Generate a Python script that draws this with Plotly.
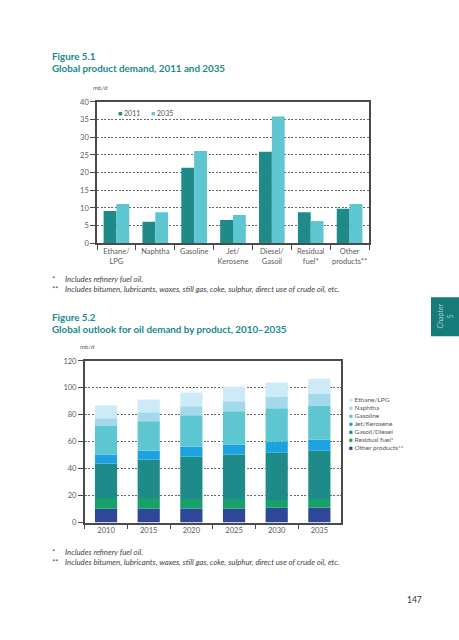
import plotly.graph_objects as go
import numpy as np

W, H = 459, 640

# ---------------- Figure 5.1 data ----------------
products = ["Ethane/<br>LPG", "Naphtha", "Gasoline", "Jet/<br>Kerosene",
            "Diesel/<br>Gasoil", "Residual<br>fuel*", "Other<br>products**"]
demand_2011 = [9.1, 6.1, 21.4, 6.6, 25.9, 8.8, 9.8]
demand_2035 = [11.1, 8.8, 26.1, 8.0, 35.9, 6.3, 11.1]
fig1_series = ["2011", "2035"]
fig1_colors = ["#1e8a89", "#5ec6d0"]
y1_ticks = [0, 5, 10, 15, 20, 25, 30, 35, 40]

# ---------------- Figure 5.2 data ----------------
years = ["2010", "2015", "2020", "2025", "2030", "2035"]
other_products = [10.2, 10.2, 10.2, 10.2, 11.0, 11.0]
residual_fuel = [8.1, 8.1, 7.4, 7.4, 5.8, 6.6]
gasoil_diesel = [25.6, 28.5, 31.4, 32.9, 35.1, 35.8]
jet_kerosene = [6.6, 6.6, 7.3, 7.3, 8.1, 8.1]
gasoline = [21.2, 21.9, 23.4, 24.9, 24.9, 25.5]
naphtha = [5.8, 6.6, 6.6, 7.3, 8.7, 8.8]
ethane_lpg = [9.5, 9.5, 10.3, 11.0, 10.3, 11.0]
y2_ticks = [0, 20, 40, 60, 80, 100, 120]

stack_names = ["Other products**", "Residual fuel*", "Gasoil/Diesel", "Jet/Kerosene",
               "Gasoline", "Naphtha", "Ethane/LPG"]
stack_values = [other_products, residual_fuel, gasoil_diesel, jet_kerosene,
                gasoline, naphtha, ethane_lpg]
stack_colors = ["#2e4799", "#17a06a", "#1e8a89", "#1aa3e0",
                "#5ec6d0", "#a3d9ea", "#cdeaf7"]

TEAL = "#188a8d"
FONT = "Lato"


def px(x):
    return x / W


def py(y):
    return 1 - y / H


fig = go.Figure()

# Figure 5.1 grouped bars (overlay with offsets)
for name, vals, col, off in zip(fig1_series, [demand_2011, demand_2035], fig1_colors, [-0.33, 0.0]):
    fig.add_trace(go.Bar(x=products, y=vals, name=name, marker=dict(color=col, line=dict(width=0)),
                         width=0.33, offset=off, xaxis="x", yaxis="y", showlegend=False))

# Figure 5.2 stacked bars
base = np.zeros(len(years))
for name, vals, col in zip(stack_names, stack_values, stack_colors):
    v = np.array(vals, dtype=float)
    fig.add_trace(go.Bar(x=years, y=v, base=base.copy(), name=name,
                         marker=dict(color=col, line=dict(width=0)),
                         width=0.52, xaxis="x2", yaxis="y2", showlegend=False))
    base = base + v

axis_line = dict(showline=True, linecolor="#4a4a4a", linewidth=1.5, mirror=True)
tickfont = dict(family=FONT, size=7.5, color="#5a5a5a")
grid = dict(showgrid=True, gridcolor="#666666", griddash="2px,1.6px", gridwidth=0.9)

fig.update_layout(
    width=W, height=H, margin=dict(l=0, r=0, t=0, b=0),
    paper_bgcolor="white", plot_bgcolor="white", barmode="overlay",
    font=dict(family=FONT, color="#444444"),
    xaxis=dict(domain=[px(97), px(369)], anchor="y", type="category", range=[-0.5, 6.5],
               tickson="boundaries", ticks="outside", ticklen=5, tickcolor="#4a4a4a", tickwidth=1.2,
               tickangle=0, showgrid=False, tickfont=tickfont, **axis_line),
    yaxis=dict(domain=[py(242.7), py(99.3)], anchor="x", range=[0, 40], tickvals=y1_ticks,
               ticks="outside", ticklen=5, tickcolor="#4a4a4a", tickwidth=1.2,
               zeroline=False, tickfont=tickfont, **grid, **axis_line),
    xaxis2=dict(domain=[px(84.7), px(340.7)], anchor="y2", type="category", range=[-0.5, 5.5],
                tickson="boundaries", ticks="outside", ticklen=5, tickcolor="#4a4a4a", tickwidth=1.2,
                tickangle=0, showgrid=False, tickfont=tickfont, **axis_line),
    yaxis2=dict(domain=[py(526), py(362)], anchor="x2", range=[0, 120], tickvals=y2_ticks,
                ticks="outside", ticklen=5, tickcolor="#4a4a4a", tickwidth=1.2,
                zeroline=False, tickfont=tickfont, **grid, **axis_line),
)

ann = []


def text(x, y, t, size=8, color="#444444", bold=False, italic=False, xanchor="left", **kw):
    if bold:
        t = "<b>" + t + "</b>"
    if italic:
        t = "<i>" + t + "</i>"
    ann.append(dict(x=px(x), y=py(y), xref="paper", yref="paper", text=t, showarrow=False,
                    xanchor=xanchor, yanchor="middle", font=dict(family=FONT, size=size, color=color), **kw))


# Titles
text(50, 53, "Figure 5.1", size=9.8, color=TEAL, bold=True)
text(50, 65.3, "Global product demand, 2011 and 2035", size=9.8, color=TEAL, bold=True)
text(50, 317, "Figure 5.2", size=9.8, color=TEAL, bold=True)
text(50, 329.6, "Global outlook for oil demand by product, 2010\u20132035", size=9.8, color=TEAL, bold=True)

# units
text(90.5, 85, "mb/d", size=6.5, color="#666666", italic=True)
text(77.5, 347.7, "mb/d", size=6.5, color="#666666", italic=True)

# Footnotes
for y0 in (279, 555.7):
    text(50, y0, "*", size=7.8, color="#444444", italic=True)
    text(62.7, y0, "Includes refinery fuel oil.", size=7.8, color="#444444", italic=True)
    text(49.5, y0 + 10, "**", size=7.8, color="#444444", italic=True)
    text(62.7, y0 + 10, "Includes bitumen, lubricants, waxes, still gas, coke, sulphur, direct use of crude oil, etc.",
         size=7.8, color="#444444", italic=True)

# Legend figure 5.1
for i, (name, col) in enumerate(zip(fig1_series, fig1_colors)):
    x0 = 116 + i * 33
    text(x0, 111, "<span style='color:%s'>\u25a0</span> %s" % (col, name), size=7, color="#555555")

# Legend figure 5.2 (top to bottom = reverse stack)
for i, (name, col) in enumerate(zip(stack_names[::-1], stack_colors[::-1])):
    y0 = 401.3 + i * 8.17
    text(347, y0, "<span style='color:%s'>\u25a0</span> %s" % (col, name), size=6.5, color="#555555")

# Page number
text(414, 605, "147", size=8.5, color="#333333", xanchor="center")

# Chapter tab
fig.add_shape(type="rect", xref="paper", yref="paper", x0=px(431), x1=px(459), y0=py(337), y1=py(297.5),
              fillcolor="#167b79", line=dict(width=0))
for xx, t in ((440, "Chapter"), (450, "5")):
    ann.append(dict(x=px(xx), y=py(317), xref="paper", yref="paper", text=t, showarrow=False,
                    textangle=-90, font=dict(family=FONT, size=7, color="#a9d3d1"),
                    xanchor="center", yanchor="middle"))

fig.update_layout(annotations=ann)
fig.write_html("out.html", config={"displayModeBar": False},
               post_script="document.body.style.margin='0';document.body.style.padding='0';"
                           "document.documentElement.style.overflow='hidden';")
